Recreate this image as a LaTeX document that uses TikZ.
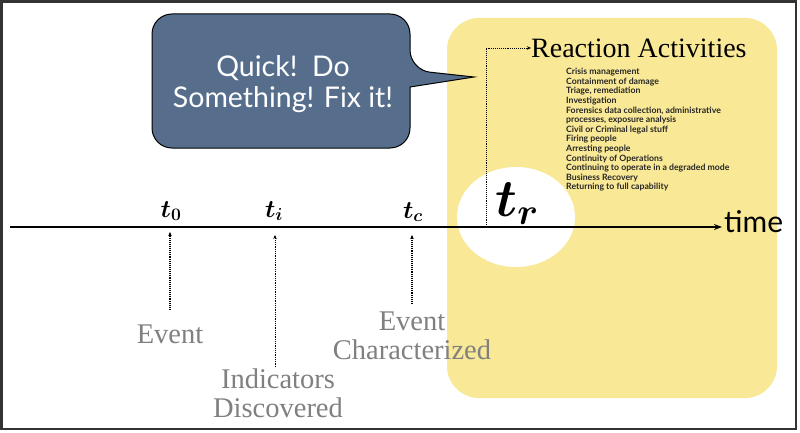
\RequirePackage{fix-cm}
\documentclass[tikz,border=0pt]{standalone}
\usepackage{amsmath,bm}
\usepackage{fontspec}
\setmainfont{Liberation Serif}
\newfontfamily\gill{Lato}
\usetikzlibrary{arrows.meta}
\definecolor{ryellow}{RGB}{249,233,151}
\definecolor{bubblue}{RGB}{86,110,140}
\definecolor{lblgray}{RGB}{128,128,128}
\tikzset{
  dotarrow/.style={densely dotted, line width=1.1pt, -{Stealth[length=4pt,width=3.5pt]}},
  glabel/.style={text=lblgray, font=\fontsize{28.5}{28.5}\selectfont, align=center, inner sep=0pt},
  tlabel/.style={font=\fontsize{25}{25}\selectfont, inner sep=0pt}
}
\begin{document}
\begin{tikzpicture}[x=1pt,y=-1pt]
\useasboundingbox (0,0) rectangle (800,433);
\fill[white] (0,0) rectangle (800,433);
% yellow panel
\fill[ryellow, rounded corners=32] (447,18) rectangle (777,398);
\fill[white] (516,217) ellipse [x radius=59, y radius=50];
% bubble
\draw[line width=1pt, fill=bubblue, rounded corners=20] (152,14) -- (410,14) -- (410,70)
   [sharp corners] -- (474,77) -- (410,87) [rounded corners=20] -- (410,148) -- (152,148) -- cycle;
\node[text=white, font=\gill\fontsize{28.5}{31}\selectfont, align=center] (bub) at (283,84) {Quick!\ \ Do\\Something! Fix it!};
% timeline
\coordinate (tl0) at (10,227);
\coordinate (tl1) at (722,227);
\draw[line width=1.6pt, -{Stealth[length=8pt,width=6pt]}] (tl0) -- (tl1);
\node[anchor=west, font=\gill\fontsize{30}{30}\selectfont, inner sep=0pt] (time) at (724,222) {time};
% t labels
\node[tlabel] (t0) at (171,211) {$\bm{t_0}$};
\node[tlabel] (ti) at (274,211) {$\bm{t_i}$};
\node[tlabel] (tc) at (413,212) {$\bm{t_c}$};
\node[font=\fontsize{53}{54}\selectfont, inner sep=0pt] (tr) at (517,204) {$\bm{t_r}$};
% event labels
\node[glabel] (ev) at (170,334) {Event};
\node[glabel] (ind) at (278,393) {Indicators\\Discovered};
\node[glabel] (evc) at (412,336) {Event\\Characterized};
\coordinate (a0) at (170,310); \coordinate (b0) at (170,232);
\coordinate (a1) at (275,367); \coordinate (b1) at (275,235);
\coordinate (a2) at (412,304); \coordinate (b2) at (412,235);
\draw[dotarrow] (a0) -- (b0);
\draw[dotarrow, line width=0.8pt] (a1) -- (b1);
\draw[dotarrow] (a2) -- (b2);
% reaction activities
\node[anchor=west, font=\fontsize{28}{29}\selectfont, inner sep=0pt] (ra) at (531,48) {Reaction Activities};
\coordinate (r0) at (486,227);
\draw[densely dotted, line width=0.9pt, -{Stealth[length=4pt,width=3.5pt]}] (r0) |- (ra.west);
\node[anchor=north west, font=\gill\bfseries\fontsize{8.7}{9.6}\selectfont, align=left, inner sep=0pt, text=black!85] (list) at (566,68) {Crisis management\\
Containment of damage\\
Triage, remediation\\
Investigation\\
Forensics data collection, administrative\\
processes, exposure analysis\\
Civil or Criminal legal stuff\\
Firing people\\
Arresting people\\
Continuity of Operations\\
Continuing to operate in a degraded mode\\
Business Recovery\\
Returning to full capability};
% frame
\draw[line width=2.5pt, black!80] (1.5,1.5) rectangle (796,429);
\end{tikzpicture}
\end{document}
